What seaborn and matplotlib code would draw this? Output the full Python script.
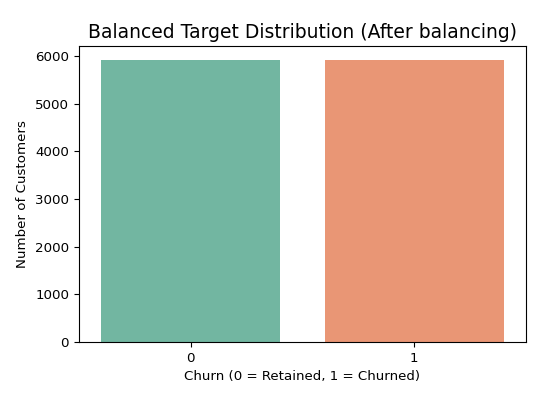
import matplotlib
matplotlib.use('Agg')
import matplotlib.pyplot as plt
import seaborn as sns
import pandas as pd

# Data
churn = ['0', '1']
counts = [5916, 5916]

df = pd.DataFrame({'Churn': churn, 'Count': counts})

plt.rcParams['font.size'] = 9.6
fig, ax = plt.subplots(figsize=(5.59, 3.97), dpi=100)
fig.subplots_adjust(left=0.141, right=0.941, top=0.884, bottom=0.139)
sns.barplot(data=df, x='Churn', y='Count', hue='Churn', palette='Set2', legend=False, ax=ax)
ax.set_title('Balanced Target Distribution (After balancing)', fontsize=13.5)
ax.set_xlabel('Churn (0 = Retained, 1 = Churned)')
ax.set_ylabel('Number of Customers')
plt.savefig('out.png')
